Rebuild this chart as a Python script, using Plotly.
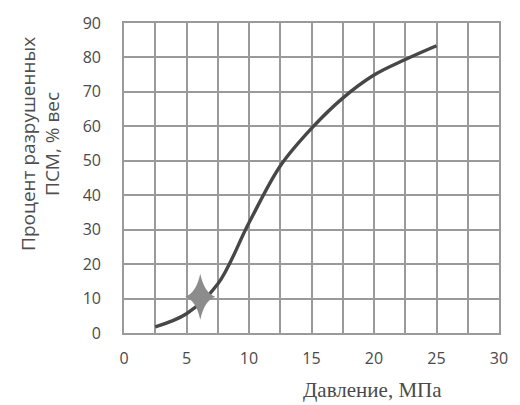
import plotly.graph_objects as go

pressure = [2.5, 5, 7.5, 10, 12.5, 15, 17.5, 20, 22.5, 25]
destroyed = [1.8, 5.6, 14.2, 32, 48.5, 59.4, 68.2, 74.9, 79.4, 83.4]
star_x = 6.1
star_y = 10.5
x_ticks = [0, 5, 10, 15, 20, 25, 30]
y_ticks = [0, 10, 20, 30, 40, 50, 60, 70, 80, 90]

W, H = 520, 405
L, R, T, B = 124, 15, 18, 72

fig = go.Figure()
fig.add_trace(go.Scatter(
    x=pressure, y=destroyed, mode="lines",
    line=dict(color="#474747", width=3.4, shape="spline", smoothing=1.0),
    showlegend=False, hoverinfo="skip"))

# four-pointed star marker (taller than wide), anchored at the data point
fig.add_shape(
    type="path", xref="x", yref="y",
    xsizemode="pixel", ysizemode="pixel",
    xanchor=star_x, yanchor=star_y,
    path="M 0,23 Q 4,4 15,0 Q 4,-4 0,-23 Q -4,-4 -15,0 Q -4,4 0,23 Z",
    fillcolor="#8c8c8c", line=dict(width=0), layer="above")

grid = "#9a9a9a"
fig.update_layout(
    width=W, height=H,
    margin=dict(l=L, r=R, t=T, b=B),
    paper_bgcolor="white", plot_bgcolor="white",
    font=dict(family="Open Sans, DejaVu Sans, sans-serif", color="#4a4a4a"),
    xaxis=dict(range=[0, 30], tickvals=x_ticks, ticks="",
               showgrid=True, gridcolor=grid, gridwidth=1.6,
               minor=dict(dtick=2.5, showgrid=True, gridcolor=grid, gridwidth=1.6),
               zeroline=False, showline=True, linecolor=grid, linewidth=1.6,
               mirror=True, tickfont=dict(size=16, color="#4a4a4a"),
               ticklabelstandoff=10),
    yaxis=dict(range=[0, 90], tickvals=y_ticks, ticks="",
               showgrid=True, gridcolor=grid, gridwidth=1.6,
               zeroline=False, showline=True, linecolor=grid, linewidth=1.6,
               mirror=True, tickfont=dict(size=16, color="#4a4a4a"),
               ticklabelstandoff=18),
)

fig.add_annotation(
    text="Процент разрушенных<br>ПСМ, % вес", textangle=-90,
    xref="paper", yref="paper",
    x=-(L - 38.5) / (W - L - R), y=(H - B - 141) / (H - T - B),
    xanchor="center", yanchor="middle", showarrow=False,
    font=dict(size=19, color="#4f4f4f", family="Open Sans, DejaVu Sans, sans-serif"))
fig.add_annotation(
    text="Давление, МПа",
    xref="paper", yref="paper",
    x=(376 - L) / (W - L - R), y=-(391 - (H - B)) / (H - T - B),
    xanchor="center", yanchor="middle", showarrow=False,
    font=dict(size=21, color="#4a4a4a", family="Liberation Serif, serif"))

fig.write_html("out.html")
